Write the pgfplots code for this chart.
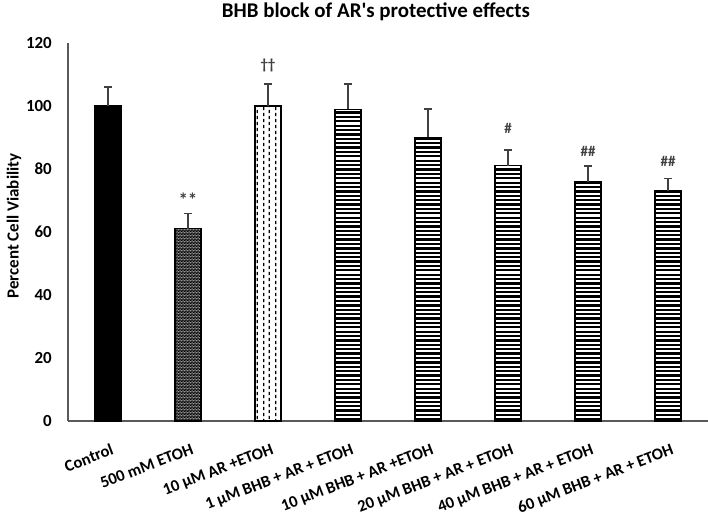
\documentclass[border=0pt]{standalone}
\usepackage{pgfplots}
\pgfplotsset{compat=1.18}
\usepackage{fontspec}
\setmainfont{Carlito}
\usetikzlibrary{patterns}

\pgfdeclarepatternformonly{thickhlines}{\pgfpoint{-1pt}{-1pt}}{\pgfpoint{5.5pt}{5.5pt}}{\pgfpoint{4.4pt}{4.4pt}}{%
  \pgfsetlinewidth{2.3pt}\pgfpathmoveto{\pgfpoint{-1pt}{2.2pt}}\pgfpathlineto{\pgfpoint{5.5pt}{2.2pt}}\pgfusepath{stroke}}
\pgfdeclarepatternformonly{vdashes}{\pgfpoint{0pt}{0pt}}{\pgfpoint{11.4pt}{6pt}}{\pgfpoint{11.4pt}{6pt}}{%
  \pgfsetlinewidth{1.4pt}%
  \pgfpathmoveto{\pgfpoint{2.8pt}{1pt}}\pgfpathlineto{\pgfpoint{2.8pt}{4.2pt}}%
  \pgfpathmoveto{\pgfpoint{8.5pt}{4pt}}\pgfpathlineto{\pgfpoint{8.5pt}{6pt}}%
  \pgfpathmoveto{\pgfpoint{8.5pt}{0pt}}\pgfpathlineto{\pgfpoint{8.5pt}{1.2pt}}\pgfusepath{stroke}}
\pgfdeclarepatterninherentlycolored{checker}{\pgfpointorigin}{\pgfpoint{2.8pt}{2.8pt}}{\pgfpoint{2.8pt}{2.8pt}}{%
  \pgfsetfillcolor{black!62}\pgfpathrectangle{\pgfpointorigin}{\pgfpoint{2.8pt}{2.8pt}}\pgfusepath{fill}%
  \pgfsetfillcolor{black}\pgfpathrectangle{\pgfpointorigin}{\pgfpoint{1.4pt}{1.4pt}}%
  \pgfpathrectangle{\pgfpoint{1.4pt}{1.4pt}}{\pgfpoint{1.4pt}{1.4pt}}\pgfusepath{fill}}

\definecolor{errc}{HTML}{404040}
\definecolor{axc}{HTML}{595959}

\begin{document}
\begin{tikzpicture}
\begin{axis}[
  scale only axis, width=640bp, height=378bp,
  xmin=-0.5, xmax=7.5, ymin=0, ymax=120,
  ytick={0,20,...,120},
  xtick={0,...,7},
  xticklabels={Control, 500 mM ETOH, 10 µM AR +ETOH, 1 µM BHB + AR + ETOH, 10 µM BHB + AR +ETOH, 20 µM BHB + AR + ETOH, 40 µM BHB + AR + ETOH, 60 µM BHB + AR + ETOH},
  axis x line*=bottom, axis y line*=left,
  axis line style={axc, line width=1.3bp, -},
  major tick length=0pt,
  /pgf/number format/assume math mode=true,
  yticklabel style={font=\fontsize{17}{19}\selectfont\bfseries, inner sep=0pt, anchor=east, xshift=-16bp},
  xticklabel style={font=\fontsize{16.6}{19}\selectfont\bfseries, rotate=21, anchor=north east, inner sep=0pt, xshift=-5.6bp, yshift=-21.5bp},
  ylabel={Percent Cell Viability},
  ylabel style={font=\fontsize{17}{19}\selectfont\bfseries, at={(axis description cs:0,0.5)}, anchor=center, yshift=54bp, xshift=6bp},
  title={BHB block of AR\textquotesingle s protective effects},
  title style={font=\fontsize{21}{23}\selectfont\bfseries, at={(axis description cs:0.5,1)}, anchor=base, inner sep=0pt, yshift=20bp, xshift=-12bp},
  bar width=26bp,
  error bars/y dir=plus, error bars/y explicit,
  error bars/error bar style={draw=errc, line width=1.5bp},
  error bars/error mark options={draw=errc, line width=1.5bp, mark size=4bp, rotate=90},
]
\addplot[ybar, bar shift=0pt, fill=black, draw=black, line width=1.2pt] coordinates {(0,100) +- (0,6)};
\addplot[ybar, bar shift=0pt, pattern=checker, draw=black, line width=1.2pt] coordinates {(1,61) +- (0,4.8)};
\addplot[ybar, bar shift=0pt, fill=white, postaction={pattern=vdashes}, draw=black, line width=1.2pt] coordinates {(2,100) +- (0,7)};
\addplot[ybar, bar shift=0pt, fill=white, postaction={pattern=thickhlines}, draw=black, line width=1.2pt] coordinates {
  (3,99) +- (0,8)
  (4,90) +- (0,9)
  (5,81) +- (0,5)
  (6,76) +- (0,5)
  (7,73) +- (0,4)
};
\addplot[draw=none, mark=none, nodes near coords, point meta=explicit symbolic,
  nodes near coords style={anchor=center, font=\fontsize{15}{17}\selectfont\bfseries, text=errc}]
  coordinates {(1,70.2)[{\fontsize{19}{20}\selectfont **}] (2,113)[\textdagger\textdagger] (5,93)[\#] (6,85.5)[\#\#] (7,82.5)[\#\#]};
\end{axis}
\pgfresetboundingbox
\useasboundingbox ([xshift=-68bp,yshift=-97bp]current axis.south west) rectangle ([yshift=43bp]current axis.north east);
\end{tikzpicture}
\end{document}
